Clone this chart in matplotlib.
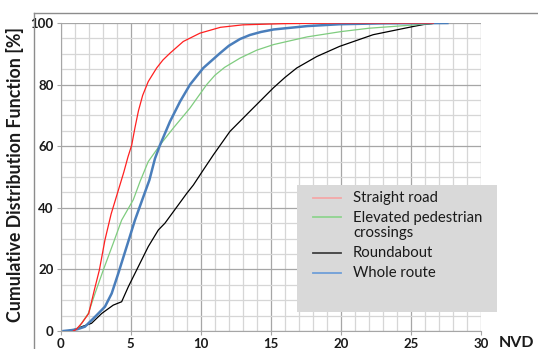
import matplotlib
matplotlib.use("Agg")
import matplotlib.pyplot as plt
from matplotlib.lines import Line2D
from matplotlib.patches import Rectangle

# ---- data ----
straight_x = [0.9, 1.1, 1.5, 2.0, 2.4, 2.76, 3.16, 3.6, 4.1, 4.5, 4.8, 5.07, 5.3, 5.55, 5.85, 6.25, 6.85, 7.3, 7.8, 8.75, 9.94, 11.4, 13.0, 16.0, 20.0, 26.6]
straight_y = [0.0, 0.5, 2.5, 5.7, 13.3, 19.8, 29.6, 38.0, 45.5, 51.5, 56.5, 60.4, 66.0, 71.5, 76.5, 81.0, 85.4, 88.0, 90.2, 94.0, 96.7, 98.6, 99.4, 99.8, 100.0, 100.0]

elevated_x = [0.3, 0.8, 1.26, 1.97, 2.45, 3.04, 3.75, 4.35, 5.18, 5.66, 6.25, 7.09, 8.04, 9.23, 10.42, 11.0, 11.7, 12.8, 14.0, 15.2, 17.6, 20.0, 22.0, 25.0, 27.0]
elevated_y = [0.0, 0.2, 1.0, 5.7, 12.2, 19.8, 28.5, 36.0, 42.6, 48.5, 55.0, 60.4, 65.9, 72.4, 80.0, 83.0, 85.6, 88.6, 91.2, 93.0, 95.5, 97.2, 98.3, 99.3, 100.0]

roundabout_x = [0.4, 1.0, 1.5, 2.2, 2.93, 3.75, 4.35, 4.83, 5.54, 6.25, 6.97, 7.44, 9.0, 9.47, 10.18, 10.9, 12.08, 13.5, 15.17, 16.0, 16.85, 18.27, 19.9, 22.3, 25.2, 25.9, 26.5]
roundabout_y = [0.0, 0.5, 1.4, 2.5, 5.7, 8.4, 9.5, 14.4, 20.9, 27.4, 32.8, 35.0, 44.7, 47.4, 52.3, 57.2, 64.8, 71.3, 78.9, 82.3, 85.4, 89.1, 92.4, 96.2, 98.9, 99.5, 99.8]

whole_x = [0.2, 0.8, 1.2, 1.73, 2.45, 3.16, 3.64, 4.11, 4.71, 5.3, 5.9, 6.33, 6.73, 7.09, 7.8, 8.52, 9.23, 10.18, 11.37, 12.0, 12.8, 13.5, 14.3, 15.2, 17.6, 19.9, 23.0, 27.6]
whole_y = [0.0, 0.3, 0.6, 1.4, 4.6, 7.9, 12.2, 18.7, 27.4, 36.0, 43.6, 49.0, 56.0, 60.4, 68.0, 74.5, 80.0, 85.4, 90.2, 92.6, 94.8, 96.1, 97.1, 97.9, 99.0, 99.6, 99.9, 100.0]

series_names = ["Straight road", "Elevated pedestrian\ncrossings", "Roundabout", "Whole route"]
x_ticks = [0, 5, 10, 15, 20, 25, 30]
y_ticks = [0, 20, 40, 60, 80, 100]

plt.rcParams['font.family'] = ['Lato', 'DejaVu Sans']

W, H = 538, 349
fig = plt.figure(figsize=(W / 100, H / 100), dpi=100)
fig.patch.set_facecolor('white')

def fx(px):
    return px / W

def fy(py):
    return 1 - py / H

ax = fig.add_axes([fx(60.7), fy(331), fx(481) - fx(60.7), fy(23) - fy(331)])
ax.set_facecolor('white')
ax.set_xlim(0, 30)
ax.set_ylim(0, 100)

# grid
ax.set_xticks(x_ticks)
ax.set_yticks(y_ticks)
ax.set_xticks(range(0, 31), minor=True)
ax.set_yticks(range(0, 101, 5), minor=True)
ax.grid(which='minor', color='#d6d6d6', linewidth=0.9)
ax.grid(which='major', color='#a6a6a6', linewidth=0.9)
ax.set_axisbelow(True)
for s in ['top', 'right']:
    ax.spines[s].set_visible(False)
ax.spines['left'].set_color('#a6a6a6')
ax.spines['bottom'].set_color('#a6a6a6')
ax.tick_params(which='major', length=3, color='#a6a6a6', labelsize=9.5, pad=2)
ax.tick_params(which='minor', length=0)
for lab in ax.get_xticklabels() + ax.get_yticklabels():
    lab.set_fontweight('bold')
    lab.set_color('#1a1a1a')

ax.plot(roundabout_x, roundabout_y, color='#000000', lw=0.9, zorder=3)
ax.plot(elevated_x, elevated_y, color='#7fcc7f', lw=0.9, zorder=3)
ax.plot(whole_x, whole_y, color='#4a7ebb', lw=1.8, zorder=4)
ax.plot(straight_x, straight_y, color='#ff2020', lw=0.9, zorder=5)

# chart area frame (top and left edges)
fig.add_artist(Line2D([fx(34), fx(W + 5)], [fy(13), fy(13)], color='#8c8c8c', lw=1.0))
fig.add_artist(Line2D([fx(34), fx(34)], [fy(13), fy(H + 5)], color='#8c8c8c', lw=1.0))

# legend box
fig.add_artist(Rectangle((fx(297), fy(312)), fx(497) - fx(297), fy(185) - fy(312),
                         facecolor='#d9d9d9', edgecolor='none', zorder=10))
leg_colors = ['#f4a8a8', '#8fd48f', '#404040', '#6f9fd8']
leg_line_y = [197.7, 216.7, 253, 273]
leg_text_y = [197.7, 225.5, 253, 273]
for c, ly, ty, name in zip(leg_colors, leg_line_y, leg_text_y, series_names):
    fig.add_artist(Line2D([fx(313), fx(341)], [fy(ly), fy(ly)], color=c, lw=1.3, zorder=11))
    fig.text(fx(353), fy(ty), name, fontsize=10.7, color='#1a1a1a', va='center', ha='left',
             linespacing=1.15, zorder=12)

fig.text(fx(516), fy(343), "NVD", fontsize=11.5, fontweight='bold', ha='center', va='center', color='#1a1a1a')
fig.text(fx(15), fy(174), "Cumulative Distribution Function [%]", fontsize=12.8, fontweight='bold',
         rotation=90, ha='center', va='center', color='#1a1a1a')

fig.savefig('out.png', dpi=100, facecolor='white')
